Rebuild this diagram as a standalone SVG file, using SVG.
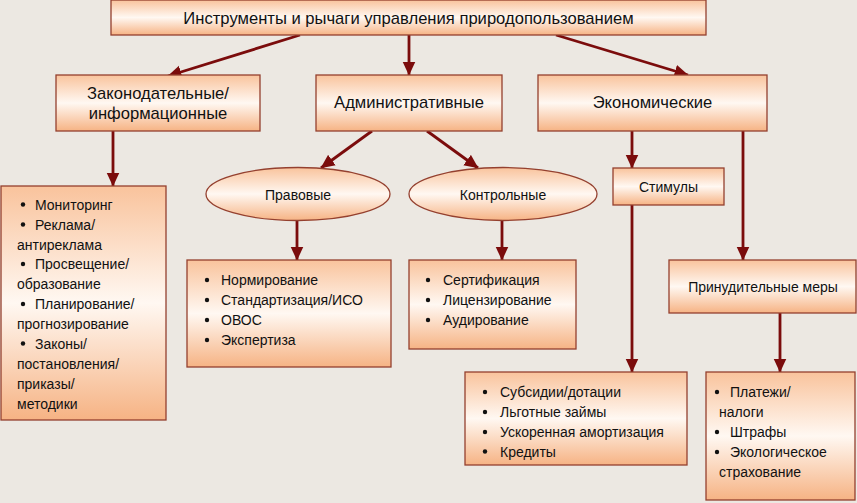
<svg xmlns="http://www.w3.org/2000/svg" width="857" height="503" viewBox="0 0 857 503">
<style>
.bg{fill:#ece8e2}
.box{fill:url(#g);stroke:#94402f;stroke-width:1.3}
.h{font-family:"Liberation Sans",Arial,sans-serif;font-size:16.6px;fill:#111;text-anchor:middle}
.m{font-family:"Liberation Sans",Arial,sans-serif;font-size:14px;fill:#111;text-anchor:middle}
.t{font-family:"Liberation Sans",Arial,sans-serif;font-size:14px;fill:#111}
.b{fill:#111}
.c{stroke:#7b0c0c;stroke-width:2.8;fill:none;marker-end:url(#a)}
</style>
<defs>
<linearGradient id="g" x1="0" y1="0" x2="0" y2="1">
<stop offset="0" stop-color="#f9c39c"/>
<stop offset="0.5" stop-color="#fff8f2"/>
<stop offset="1" stop-color="#f6b384"/>
</linearGradient>
<marker id="a" markerUnits="userSpaceOnUse" markerWidth="14" markerHeight="14" viewBox="0 0 13 12" refX="12.5" refY="6" orient="auto">
<path d="M0,0 L13,6 L0,12 Z" fill="#7b0c0c"/>
</marker>
</defs>
<rect class="bg" x="0" y="0" width="857" height="503"/>

<g id="connectors">
<line class="c" x1="300" y1="35" x2="168" y2="76"/>
<line class="c" x1="409" y1="35" x2="409" y2="75"/>
<line class="c" x1="556" y1="35" x2="688" y2="75"/>
<line class="c" x1="113" y1="131" x2="113" y2="186"/>
<line class="c" x1="372" y1="131" x2="321" y2="168"/>
<line class="c" x1="427" y1="131" x2="478" y2="168"/>
<line class="c" x1="632" y1="131" x2="632" y2="168"/>
<line class="c" x1="743" y1="131" x2="743" y2="260"/>
<line class="c" x1="297" y1="221" x2="297" y2="260"/>
<line class="c" x1="502" y1="221" x2="502" y2="260"/>
<line class="c" x1="632" y1="205" x2="632" y2="372"/>
<line class="c" x1="780" y1="313" x2="780" y2="372"/>
</g>

<g id="root">
<rect class="box" x="111" y="0" width="595" height="35"/>
<text class="h" x="408.5" y="23.5">Инструменты и рычаги управления природопользованием</text>
</g>

<g id="legislative">
<rect class="box" x="56" y="75" width="204" height="56"/>
<text class="h" x="158" y="98.5">Законодательные/</text>
<text class="h" x="158" y="118.5">информационные</text>
</g>

<g id="administrative">
<rect class="box" x="316" y="75" width="186" height="56"/>
<text class="h" x="409" y="107.5">Административные</text>
</g>

<g id="economic">
<rect class="box" x="538" y="75" width="229" height="56"/>
<text class="h" x="652.5" y="107.5">Экономические</text>
</g>

<g id="legal">
<ellipse class="box" cx="298" cy="194" rx="92" ry="26.5"/>
<text class="m" x="298" y="200">Правовые</text>
</g>

<g id="control">
<ellipse class="box" cx="503" cy="194" rx="94" ry="26.5"/>
<text class="m" x="503" y="200">Контрольные</text>
</g>

<g id="stimuli">
<rect class="box" x="613" y="168" width="111" height="37"/>
<text class="m" x="668.5" y="191.5">Стимулы</text>
</g>

<g id="coercive">
<rect class="box" x="669" y="260" width="187" height="53"/>
<text class="m" x="763" y="291.5">Принудительные меры</text>
</g>

<g id="legislative-list">
<rect class="box" x="1" y="186" width="165" height="234"/>
<circle class="b" cx="23" cy="204.5" r="2.2"/><text class="t" x="35" y="209.5">Мониторинг</text>
<circle class="b" cx="23" cy="224.5" r="2.2"/><text class="t" x="35" y="229.5">Реклама/</text>
<text class="t" x="17" y="249.5">антиреклама</text>
<circle class="b" cx="23" cy="264" r="2.2"/><text class="t" x="35" y="269">Просвещение/</text>
<text class="t" x="17" y="289">образование</text>
<circle class="b" cx="23" cy="304" r="2.2"/><text class="t" x="35" y="309">Планирование/</text>
<text class="t" x="17" y="328.5">прогнозирование</text>
<circle class="b" cx="23" cy="343.5" r="2.2"/><text class="t" x="35" y="348.5">Законы/</text>
<text class="t" x="17" y="368.5">постановления/</text>
<text class="t" x="17" y="388.5">приказы/</text>
<text class="t" x="17" y="408.5">методики</text>
</g>

<g id="legal-list">
<rect class="box" x="187" y="260" width="204" height="107"/>
<circle class="b" cx="207" cy="280" r="2.2"/><text class="t" x="221" y="285">Нормирование</text>
<circle class="b" cx="207" cy="300" r="2.2"/><text class="t" x="221" y="305">Стандартизация/ИСО</text>
<circle class="b" cx="207" cy="320" r="2.2"/><text class="t" x="221" y="325">ОВОС</text>
<circle class="b" cx="207" cy="340" r="2.2"/><text class="t" x="221" y="345">Экспертиза</text>
</g>

<g id="control-list">
<rect class="box" x="409" y="260" width="167" height="89"/>
<circle class="b" cx="428" cy="280" r="2.2"/><text class="t" x="443" y="285">Сертификация</text>
<circle class="b" cx="428" cy="300" r="2.2"/><text class="t" x="443" y="305">Лицензирование</text>
<circle class="b" cx="428" cy="320" r="2.2"/><text class="t" x="443" y="325">Аудирование</text>
</g>

<g id="stimuli-list">
<rect class="box" x="465" y="372" width="222" height="93"/>
<circle class="b" cx="485" cy="392" r="2.2"/><text class="t" x="500" y="397">Субсидии/дотации</text>
<circle class="b" cx="485" cy="412" r="2.2"/><text class="t" x="500" y="417">Льготные займы</text>
<circle class="b" cx="485" cy="432" r="2.2"/><text class="t" x="500" y="437">Ускоренная амортизация</text>
<circle class="b" cx="485" cy="451.5" r="2.2"/><text class="t" x="500" y="456.5">Кредиты</text>
</g>

<g id="coercive-list">
<rect class="box" x="706" y="372" width="149" height="128"/>
<circle class="b" cx="717" cy="392" r="2.2"/><text class="t" x="730" y="397">Платежи/</text>
<text class="t" x="719" y="417">налоги</text>
<circle class="b" cx="717" cy="432" r="2.2"/><text class="t" x="730" y="437">Штрафы</text>
<circle class="b" cx="717" cy="452" r="2.2"/><text class="t" x="730" y="457">Экологическое</text>
<text class="t" x="719" y="477">страхование</text>
</g>
</svg>
